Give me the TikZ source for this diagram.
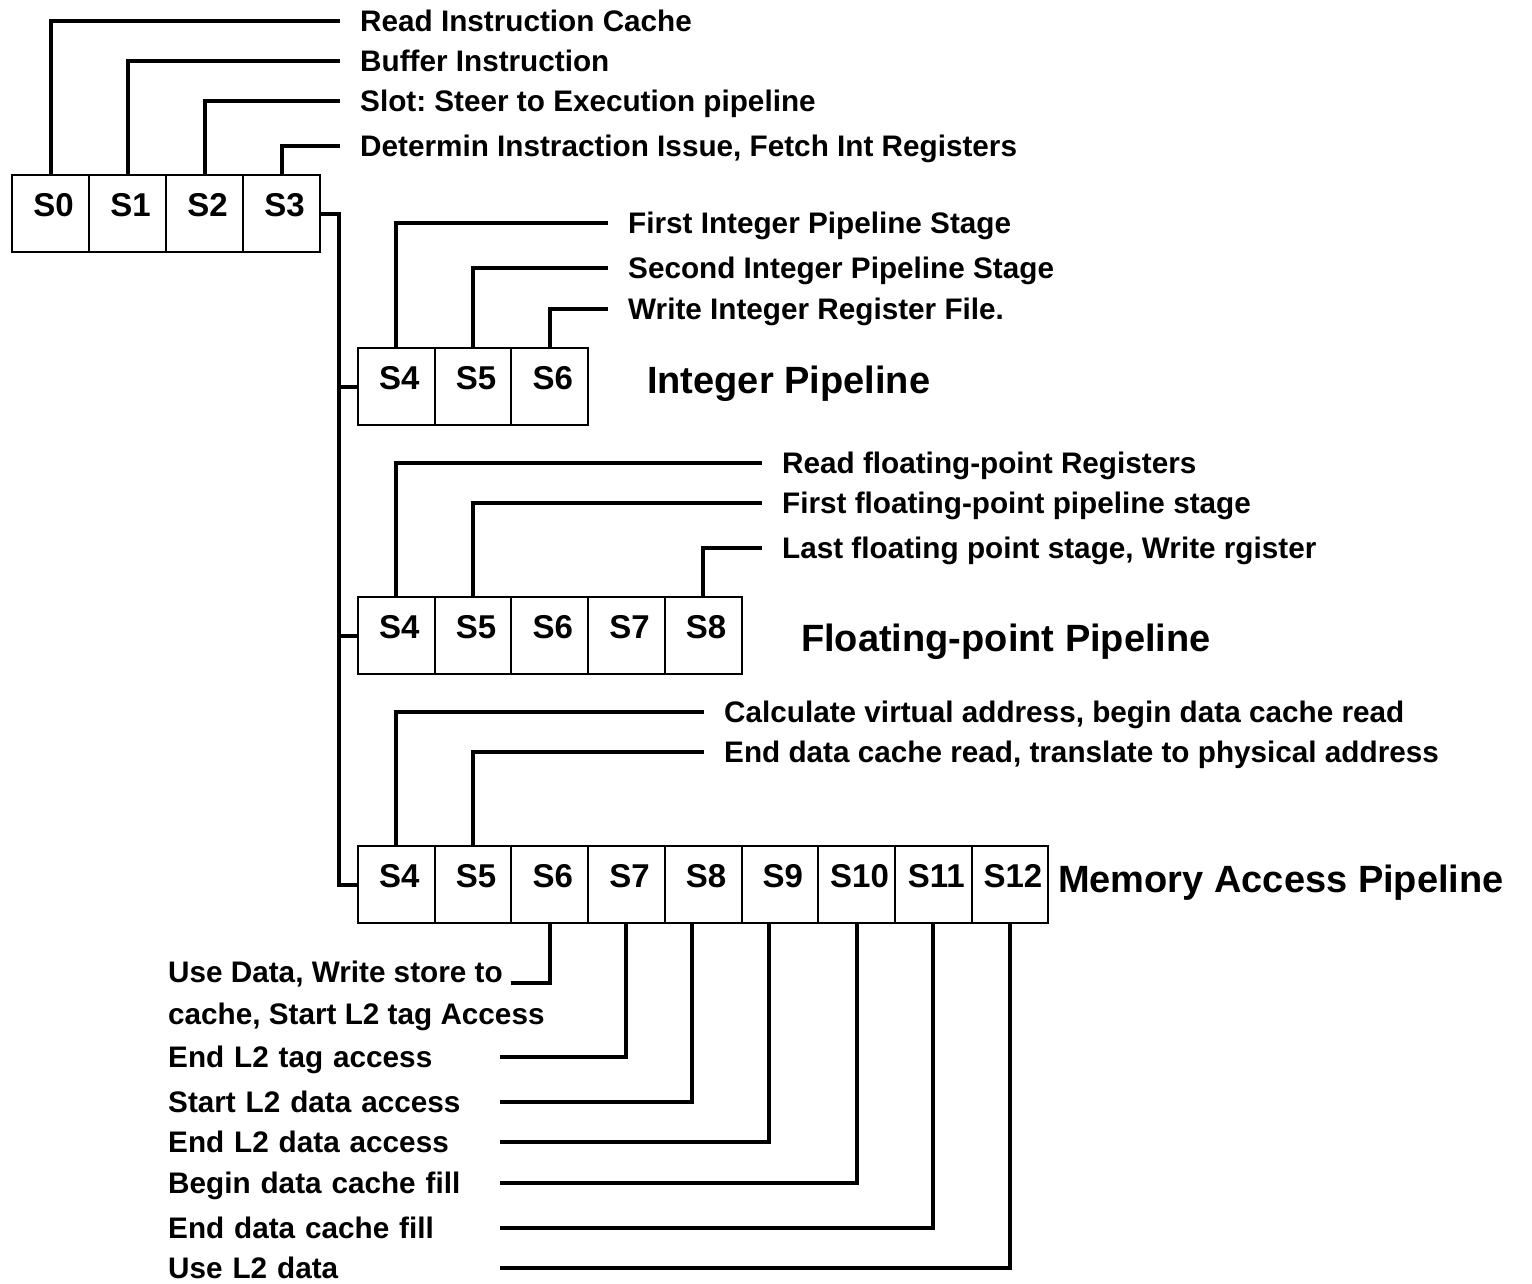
\documentclass[tikz,border=0pt]{standalone}
\usepackage{fontspec}
\setmainfont{Liberation Sans}
\usetikzlibrary{calc}
\frenchspacing
\tikzstyle{cell}=[draw, line width=2pt, outer sep=0pt, inner sep=0pt, minimum width=76.7pt, minimum height=77pt, text height=41.8pt, text depth=35.2pt, execute at begin node=\hspace{6pt}, font=\fontsize{33pt}{36pt}\selectfont\bfseries]
\tikzstyle{wire}=[line width=4pt]
\tikzstyle{note}=[anchor=west, inner xsep=20pt, inner ysep=0pt, text height=21.3pt, text depth=0pt, font=\fontsize{29.7pt}{34pt}\selectfont\bfseries]
\tikzstyle{tail}=[anchor=west, inner sep=0pt, align=left, text height=21.3pt, text depth=0pt, font=\fontsize{29.7pt}{34pt}\selectfont\bfseries]
\tikzstyle{pipe}=[anchor=west, inner sep=0pt, text height=27.2pt, text depth=0pt, font=\fontsize{38pt}{42pt}\selectfont\bfseries]

\begin{document}
\begin{tikzpicture}[x=1pt, y=-1pt]
	\useasboundingbox (0,0) rectangle (1532,1283);

	% Common front end
	\foreach \i in {0,...,3}{
		\node[cell, minimum width=77pt] (t\i) at ({50.5+77*\i}, 213.5) {S\i};
	}
	\node[note] (r0) at (340, 21) {Read Instruction Cache};
	\node[note] (r1) at (340, 61) {Buffer Instruction};
	\node[note] (r2) at (340,101) {Slot: Steer to Execution pipeline};
	\node[note] (r3) at (340,146) {Determin Instraction Issue, Fetch Int Registers};
	\foreach \i in {0,...,3}{ \draw[wire] (t\i.north) |- (r\i.west); }

	% Integer pipeline
	\foreach \i in {4,5,6}{
		\node[cell] (i\i) at ({396.35+76.7*(\i-4)}, 386.5) {S\i};
	}
	\node[note] (ia) at (608,223) {First Integer Pipeline Stage};
	\node[note] (ib) at (608,268) {Second Integer Pipeline Stage};
	\node[note] (ic) at (608,309) {Write Integer Register File.};
	\draw[wire] (i4.north) |- (ia.west);
	\draw[wire] (i5.north) |- (ib.west);
	\draw[wire] (i6.north) |- (ic.west);
	\node[pipe] (ip) at (647,380) {Integer Pipeline};

	% Floating-point pipeline
	\foreach \i in {4,...,8}{
		\node[cell] (f\i) at ({396.35+76.7*(\i-4)}, 635.5) {S\i};
	}
	\node[note] (fa) at (762,463) {Read floating-point Registers};
	\node[note] (fb) at (762,503) {First floating-point pipeline stage};
	\node[note] (fc) at (762,548) {Last floating point stage, Write rgister};
	\draw[wire] (f4.north) |- (fa.west);
	\draw[wire] (f5.north) |- (fb.west);
	\draw[wire] (f8.north) |- (fc.west);
	\node[pipe] (fp) at (801,638) {Floating-point Pipeline};

	% Memory access pipeline
	\foreach \i in {4,...,12}{
		\node[cell] (m\i) at ({396.35+76.7*(\i-4)}, 884.5) {S\i};
	}
	\node[note] (ma) at (704,712) {Calculate virtual address, begin data cache read};
	\node[note] (mb) at (704,752) {End data cache read, translate to physical address};
	\draw[wire] (m4.north) |- (ma.west);
	\draw[wire] (m5.north) |- (mb.west);
	\node[pipe] (mp) at (1058,879) {Memory Access Pipeline};

	\node[tail] (u0) at (168, 972) {Use Data, Write store to};
	\node[tail] (u1) at (168,1014) {cache, Start L2 tag Access};
	\node[tail, text width=332pt] (u2) at (168,1057) {End L2 tag access};
	\node[tail, text width=332pt] (u3) at (168,1102) {Start L2 data access};
	\node[tail, text width=332pt] (u4) at (168,1142) {End L2 data access};
	\node[tail, text width=332pt] (u5) at (168,1183) {Begin data cache fill};
	\node[tail, text width=332pt] (u6) at (168,1228) {End data cache fill};
	\node[tail, text width=332pt] (u7) at (168,1268) {Use L2 data};
	\draw[wire] (m6.south) |- ([xshift=8pt]u0.south east);
	\draw[wire] (m7.south) |- (u2.east);
	\draw[wire] ([xshift=-11pt]m8.south) |- (u3.east);
	\draw[wire] ([xshift=-11pt]m9.south) |- (u4.east);
	\draw[wire] (m10.south) |- (u5.east);
	\draw[wire] (m11.south) |- (u6.east);
	\draw[wire] (m12.south) |- (u7.east);

	% Issue bus to the three pipelines
	\coordinate (bus) at ([xshift=19pt]t3.east);
	\draw[wire] (t3.east) -- (bus) |- (m4.west);
	\draw[wire] (i4.west) -- (i4.west -| bus);
	\draw[wire] (f4.west) -- (f4.west -| bus);
\end{tikzpicture}
\end{document}
